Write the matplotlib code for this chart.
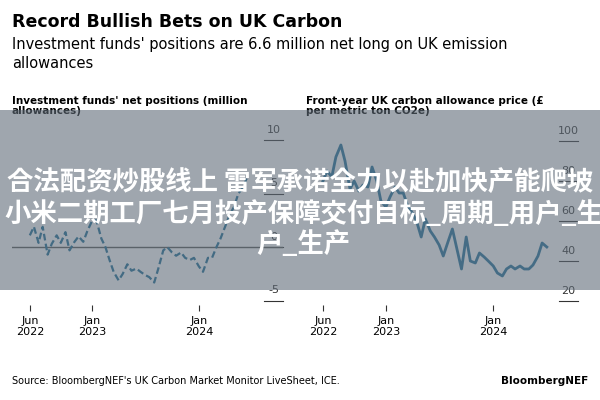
import matplotlib
matplotlib.use("Agg")
import matplotlib.pyplot as plt
import matplotlib.transforms as mtrans
from matplotlib import font_manager
import pandas as pd

positions = [1.1, 1.9, 0.4, 1.9, -0.7, 0.3, 1.1, 0.4, 1.4, -0.3, 0.5, 1.0, 0.5,
             1.5, 2.5, 2.5, 0.8, 0.0, -1.2, -2.3, -3.1, -2.5, -1.6, -2.2, -2.0,
             -2.3, -2.6, -2.8, -3.3, -2.0, -0.3, 0.0, -0.5, -0.8, -0.5, -1.0, -1.2,
             -1.0, -1.8, -2.3, -1.0, -1.0, 0.0, 0.8, 2.0, 3.0, 3.8, 5.0, 5.6, 6.6]
prices = [80, 85, 82, 92, 98, 90, 76, 80, 75, 78, 77, 87, 80, 70,
          67, 72, 77, 74, 74, 68, 64, 60, 52, 61, 55, 52, 48, 42.5,
          50, 56, 45, 36, 52, 40, 39, 44, 42, 40, 37.5, 34, 32.5, 36,
          37.5, 36, 37.5, 36, 36, 38, 42.5, 49, 47]
pos_dates = pd.date_range("2022-06-01", periods=len(positions), freq="SMS")
price_dates = pd.date_range("2022-06-01", periods=len(prices), freq="SMS")
left_ticks = [10, 5, 0, -5]
left_ticklabels = ["10", "5", "0", "-5"]
right_ticks = [100, 80, 60, 40, 20]
xtick_dates = ["2022-06-01", "2023-01-01", "2024-01-01"]
xtick_labels = ["Jun\n2022", "Jan\n2023", "Jan\n2024"]

W, H = 600, 400
fig = plt.figure(figsize=(6, 4), dpi=100)
fig.patch.set_facecolor("white")

def fx(p): return p / W
def fy(p): return 1 - p / H

fig.text(fx(12), fy(22), "Record Bullish Bets on UK Carbon", fontsize=12.5, fontweight="bold", va="center")
fig.text(fx(12), fy(54), "Investment funds' positions are 6.6 million net long on UK emission\nallowances",
         fontsize=10.5, va="center", linespacing=1.25)
fig.text(fx(12), fy(106), "Investment funds' net positions (million\nallowances)", fontsize=7.5,
         fontweight="bold", va="center", linespacing=1.1)
fig.text(fx(306), fy(106), "Front-year UK carbon allowance price (£\nper metric ton CO2e)", fontsize=7.5,
         fontweight="bold", va="center", linespacing=1.1)
fig.text(fx(12), fy(381), "Source: BloombergNEF's UK Carbon Market Monitor LiveSheet, ICE.", fontsize=7, va="center")
fig.text(fx(588), fy(381), "BloombergNEF", fontsize=7.5, fontweight="bold", va="center", ha="right")

xmin, xmax = pd.Timestamp("2022-04-01"), pd.Timestamp("2024-10-15")

def setup(ax, ticks, labels, ymin, ymax):
    ax.set_xlim(xmin, xmax)
    ax.set_ylim(ymin, ymax)
    for s in ax.spines.values():
        s.set_visible(False)
    ax.set_yticks([])
    ax.set_xticks(pd.to_datetime(xtick_dates))
    ax.set_xticklabels(xtick_labels, fontsize=8, linespacing=1.1)
    ax.tick_params(axis="x", length=4, width=0.8, color="#333333", pad=4)
    tr = mtrans.blended_transform_factory(ax.transAxes, ax.transData)
    for t, l in zip(ticks, labels):
        ax.plot([0.93, 1.0], [t, t], transform=tr, color="#333333", lw=0.8, clip_on=False)
        ax.text(0.965, t + (ymax - ymin) * 0.03, l, transform=tr, ha="center", va="bottom",
                fontsize=8, color="#333333")

axL = fig.add_axes([fx(12), fy(305), (283 - 12) / W, 180 / H])
setup(axL, left_ticks, left_ticklabels, -5.4, 11.4)
axL.axhline(0, color="#555555", lw=1.0)
axL.plot(pos_dates, positions, color="#1a6b95", lw=1.6, ls=(0, (3, 1.5)))

axR = fig.add_axes([fx(305), fy(305), (578 - 305) / W, 180 / H])
setup(axR, right_ticks, [str(t) for t in right_ticks], 18, 108)
axR.plot(price_dates, prices, color="#1f6f9a", lw=2)

fig.patches.append(plt.Rectangle((0, fy(290)), 1, (290 - 110) / H, transform=fig.transFigure,
                                 facecolor="#5f6b78", alpha=0.6, zorder=10))

cands = [f for f in font_manager.fontManager.ttflist
         if "Sans CJK" in f.name and ("SC" in f.name or "JP" in f.name)]
cands.sort(key=lambda f: (0 if f.weight in (700, "bold") or "Bold" in f.fname else 1))
if cands:
    fp = font_manager.FontProperties(fname=cands[0].fname, size=19)
else:
    fp = font_manager.FontProperties(family="Noto Sans CJK SC", weight="bold", size=19)
cjk = dict(fontproperties=fp, color="white", zorder=11, va="center")
fig.text(0.5, fy(182), "合法配资炒股线上 雷军承诺全力以赴加快产能爬坡", ha="center", **cjk)
fig.text(fx(4), fy(215), "小米二期工厂七月投产保障交付目标_周期_用户_生产", ha="left", **cjk)
fig.text(fx(256), fy(244), "户_生产", ha="left", **cjk)

fig.savefig("out.png", dpi=100)
